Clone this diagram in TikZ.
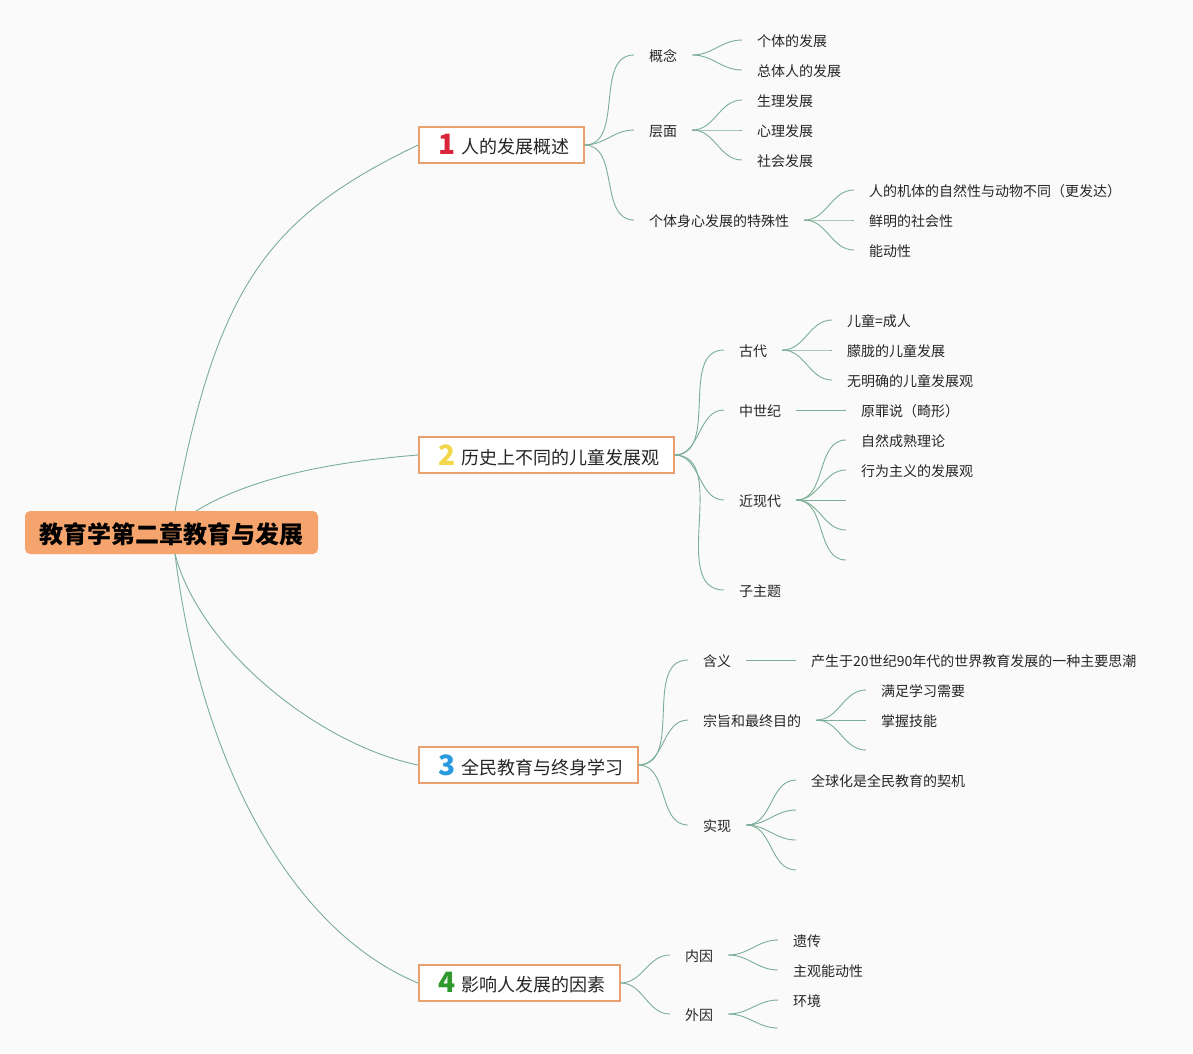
\documentclass[tikz,border=0pt]{standalone}
\usepackage{fontspec}
\setmainfont{Noto Sans CJK SC}
\usetikzlibrary{calc}
\definecolor{bg}{HTML}{FAFAFA}
\definecolor{rootfill}{HTML}{F4A46C}
\definecolor{boxline}{HTML}{E9A071}
\definecolor{linec}{HTML}{7BAE96}
\definecolor{txt}{HTML}{262626}
\definecolor{nA}{HTML}{D9263A}
\definecolor{nB}{HTML}{F2D64B}
\definecolor{nC}{HTML}{2A9AE0}
\definecolor{nD}{HTML}{2E9A2E}
\tikzset{
  rootbox/.style={fill=rootfill, rounded corners=5pt, minimum width=293pt, minimum height=43pt, inner sep=0pt, text height=24pt, text depth=2.8pt, text=black, font=\bfseries\fontsize{24}{26}\selectfont},
  mainbox/.style={draw=boxline, line width=1.5pt, fill=white, anchor=west, minimum height=36pt, inner xsep=14pt, inner ysep=0pt, text=txt, font=\fontsize{18}{20}\selectfont},
  leaf/.style={anchor=west, inner xsep=15pt, inner ysep=0pt, text height=14.5pt, text depth=2pt, text=txt, font=\fontsize{14}{16}\selectfont},
  link/.style={draw=linec, line width=0.9pt}
}
\newcommand{\bnum}[2]{\hspace{6pt}\raisebox{-1pt}{\textcolor{#1}{\bfseries\fontsize{28}{28}\selectfont #2}}\hspace{6pt}}
\begin{document}
\begin{tikzpicture}[x=1pt,y=-1pt]
\fill[bg] (0,0) rectangle (1193,1053);
\useasboundingbox (0,0) rectangle (1193,1053);

% root
\node[rootbox] (root) at (171.5,532.5) {教育学第二章教育与发展};

% main boxes
\node[mainbox] (b1) at (418,145) {\bnum{nA}{1}人的发展概述};
\node[mainbox] (b2) at (418,455) {\bnum{nB}{2}历史上不同的儿童发展观};
\node[mainbox] (b3) at (418,765) {\bnum{nC}{3}全民教育与终身学习};
\node[mainbox] (b4) at (418,983) {\bnum{nD}{4}影响人发展的因素};

\coordinate (r1) at (175,511);
\coordinate (r2) at (196,511);
\coordinate (r3) at (175,554);
\draw[link] (r1) .. controls (217,286) and (268,217) .. (b1.west);
\draw[link] (r2) .. controls (250,478) and (330,462) .. (b2.west);
\draw[link] (r3) .. controls (200,650) and (320,745) .. (b3.west);
\draw[link] (r3) .. controls (200,760) and (290,930) .. (b4.west);

% ---- branch 1
\node[leaf] (a1) at (634,55) {概念};
\node[leaf] (a2) at (634,130) {层面};
\node[leaf] (a3) at (634,220) {个体身心发展的特殊性};
\foreach \c in {a1,a2,a3} \draw[link] (b1.east) to[out=0,in=180] (\c.west);
\node[leaf] (a11) at (742,40) {个体的发展};
\node[leaf] (a12) at (742,70) {总体人的发展};
\foreach \c in {a11,a12} \draw[link] (a1.east) to[out=0,in=180] (\c.west);
\node[leaf] (a21) at (742,100) {生理发展};
\node[leaf] (a22) at (742,130) {心理发展};
\node[leaf] (a23) at (742,160) {社会发展};
\foreach \c in {a21,a22,a23} \draw[link] (a2.east) to[out=0,in=180] (\c.west);
\node[leaf] (a31) at (854,190) {人的机体的自然性与动物不同（更发达）};
\node[leaf] (a32) at (854,220) {鲜明的社会性};
\node[leaf] (a33) at (854,250) {能动性};
\foreach \c in {a31,a32,a33} \draw[link] (a3.east) to[out=0,in=180] (\c.west);

% ---- branch 2
\node[leaf] (h1) at (724,350) {古代};
\node[leaf] (h2) at (724,410) {中世纪};
\node[leaf] (h3) at (724,500) {近现代};
\node[leaf] (h4) at (724,590) {子主题};
\foreach \c in {h1,h2,h3,h4} \draw[link] (b2.east) to[out=0,in=180] (\c.west);
\node[leaf] (h11) at (832,320) {儿童=成人};
\node[leaf] (h12) at (832,350) {朦胧的儿童发展};
\node[leaf] (h13) at (832,380) {无明确的儿童发展观};
\foreach \c in {h11,h12,h13} \draw[link] (h1.east) to[out=0,in=180] (\c.west);
\node[leaf] (h21) at (846,410) {原罪说（畸形）};
\draw[link] (h2.east) -- (h21.west);
\node[leaf] (h31) at (846,440) {自然成熟理论};
\node[leaf] (h32) at (846,470) {行为主义的发展观};
\coordinate (h33) at (846,500);
\coordinate (h34) at (846,530);
\coordinate (h35) at (846,560);
\foreach \c in {h31,h32} \draw[link] (h3.east) to[out=0,in=180] (\c.west);
\foreach \c in {h33,h34,h35} \draw[link] (h3.east) to[out=0,in=180] (\c);

% ---- branch 3
\node[leaf] (q1) at (688,660) {含义};
\node[leaf] (q2) at (688,720) {宗旨和最终目的};
\node[leaf] (q3) at (688,825) {实现};
\foreach \c in {q1,q2,q3} \draw[link] (b3.east) to[out=0,in=180] (\c.west);
\node[leaf] (q11) at (796,660) {产生于20世纪90年代的世界教育发展的一种主要思潮};
\draw[link] (q1.east) -- (q11.west);
\node[leaf] (q21) at (866,690) {满足学习需要};
\node[leaf] (q22) at (866,720) {掌握技能};
\coordinate (q23) at (866,750);
\foreach \c in {q21,q22} \draw[link] (q2.east) to[out=0,in=180] (\c.west);
\draw[link] (q2.east) to[out=0,in=180] (q23);
\node[leaf] (q31) at (796,780) {全球化是全民教育的契机};
\coordinate (q32) at (796,810);
\coordinate (q33) at (796,840);
\coordinate (q34) at (796,870);
\draw[link] (q3.east) to[out=0,in=180] (q31.west);
\foreach \c in {q32,q33,q34} \draw[link] (q3.east) to[out=0,in=180] (\c);

% ---- branch 4
\node[leaf] (f1) at (670,955) {内因};
\node[leaf] (f2) at (670,1014) {外因};
\foreach \c in {f1,f2} \draw[link] (b4.east) to[out=0,in=180] (\c.west);
\node[leaf] (f11) at (778,940) {遗传};
\node[leaf] (f12) at (778,970) {主观能动性};
\foreach \c in {f11,f12} \draw[link] (f1.east) to[out=0,in=180] (\c.west);
\node[leaf] (f21) at (778,1000) {环境};
\coordinate (f22) at (778,1028);
\draw[link] (f2.east) to[out=0,in=180] (f21.west);
\draw[link] (f2.east) to[out=0,in=180] (f22);
\end{tikzpicture}
\end{document}
